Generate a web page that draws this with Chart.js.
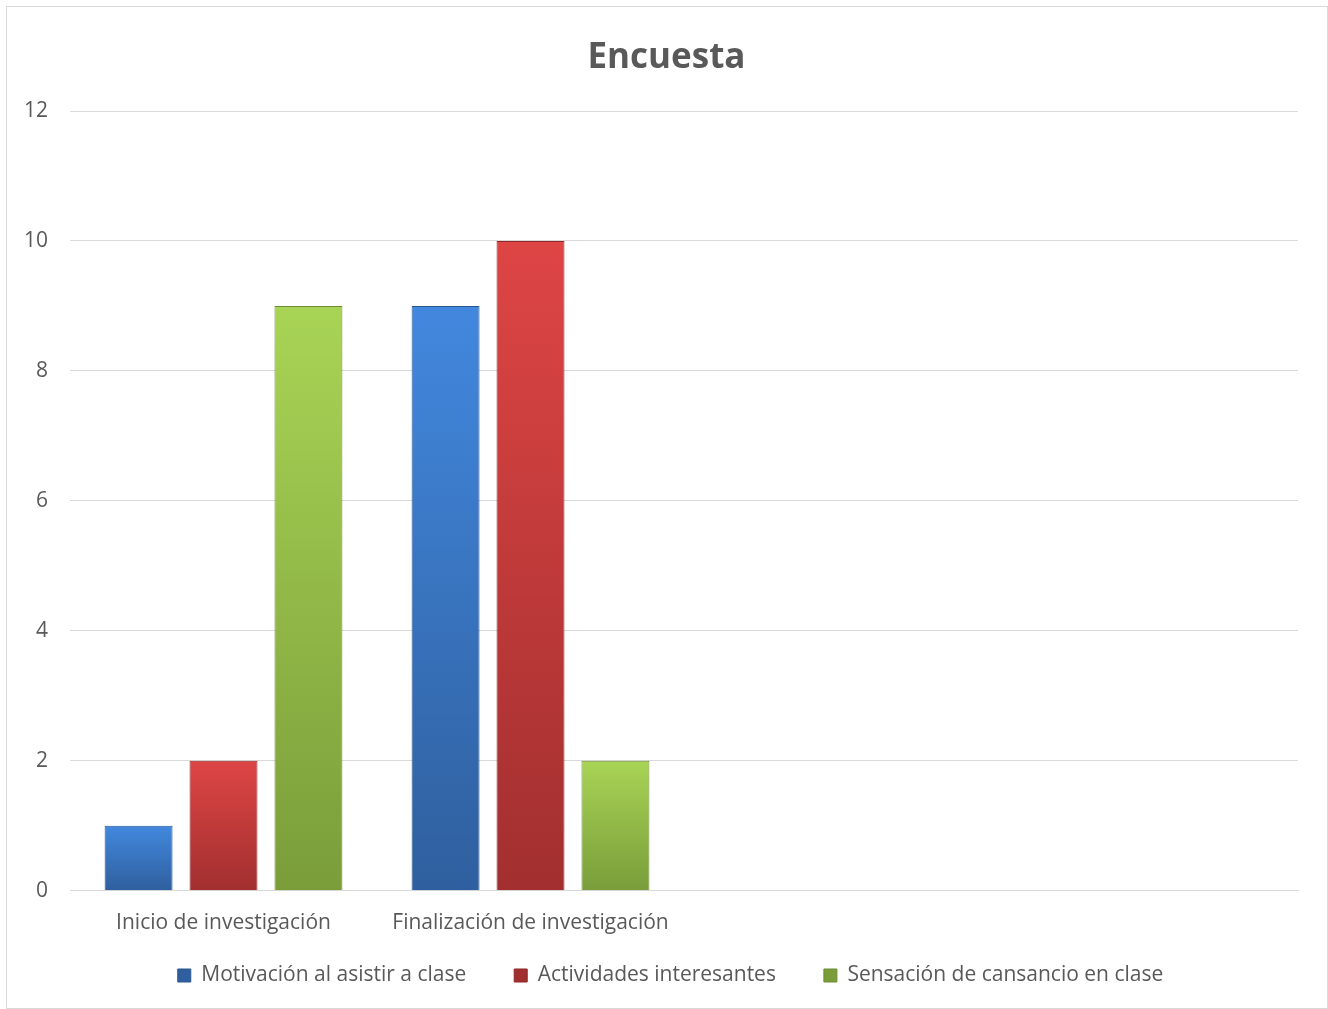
<!DOCTYPE html>
<html>
<head>
<meta charset="utf-8">
<script src="https://cdn.jsdelivr.net/npm/chart.js"></script>
<style>
  body { margin: 0; background: #fff; }
  #wrap { position: absolute; left: 6px; top: 6px; width: 1322px; height: 1003px; border: 1px solid #d9d9d9; box-sizing: border-box; }
</style>
</head>
<body>
<div id="wrap"><canvas id="myChart"></canvas></div>
<script>
const categorias = ['Inicio de investigación', 'Finalización de investigación', '', ''];
const motivacion = [1, 9, null, null];
const actividades = [2, 10, null, null];
const cansancio = [9, 2, null, null];

// degradado vertical propio de cada barra
function degradado(top, bottom) {
    return function (context) {
        const chart = context.chart;
        const y = chart.scales && chart.scales.y;
        if (!chart.chartArea || !y || context.raw == null) return top;
        const y0 = y.getPixelForValue(context.raw);
        const y1 = y.getPixelForValue(0);
        const g = chart.ctx.createLinearGradient(0, y0, 0, y1);
        g.addColorStop(0, top);
        g.addColorStop(1, bottom);
        return g;
    };
}

// desplaza título y leyenda un poco a la derecha, como en el original
const desplazar = {
    id: 'desplazar',
    afterLayout(chart) {
        if (chart.titleBlock) { chart.titleBlock.left += 8; chart.titleBlock.right += 8; }
        if (chart.legend) { chart.legend.left += 12; chart.legend.right += 12; }
    }
};

const ctx = document.getElementById('myChart').getContext('2d');
Chart.defaults.font.family = "'Open Sans', 'Liberation Sans', sans-serif";
Chart.defaults.color = '#595959';

const myChart = new Chart(ctx, {
    type: 'bar',
    data: {
        labels: categorias,
        datasets: [{
            label: 'Motivación al asistir a clase',
            data: motivacion,
            backgroundColor: degradado('#4288de', '#2f5f9e'),
            borderColor: '#2a5690',
            borderWidth: 1
        },
        {
            label: 'Actividades interesantes',
            data: actividades,
            backgroundColor: degradado('#de4545', '#a22f2f'),
            borderColor: '#8f2828',
            borderWidth: 1
        },
        {
            label: 'Sensación de cansancio en clase',
            data: cansancio,
            backgroundColor: degradado('#a8d455', '#7a9d3a'),
            borderColor: '#6d8c34',
            borderWidth: 1
        }]
    },
    options: {
        responsive: true,
        maintainAspectRatio: false,
        animation: false,
        categoryPercentage: 0.83,
        barPercentage: 0.8,
        layout: { padding: { left: 12, right: 29, top: 11, bottom: 12 } },
        plugins: {
            title: {
                display: true,
                text: 'Encuesta',
                font: { size: 35, weight: 'bold' },
                color: '#595959',
                padding: { top: 19, bottom: 32 }
            },
            legend: {
                position: 'bottom',
                labels: {
                    boxWidth: 13,
                    boxHeight: 13,
                    font: { size: 21 },
                    padding: 20,
                    // más separación entre elementos de la leyenda
                    generateLabels: function (chart) {
                        const items = Chart.defaults.plugins.legend.labels.generateLabels(chart);
                        items.forEach(function (it, i) {
                            if (i < items.length - 1) it.text += '\u2003\u2009\u2009';
                        });
                        return items;
                    }
                }
            },
            tooltip: { enabled: false }
        },
        scales: {
            x: {
                grid: { display: false },
                border: { color: '#d9d9d9' },
                ticks: { font: { size: 21 }, maxRotation: 0, padding: 12 },
                afterFit: function (scale) { scale.height -= 3; }
            },
            y: {
                beginAtZero: true,
                min: 0,
                max: 12,
                ticks: { stepSize: 2, font: { size: 21 }, padding: 22 },
                grid: { color: '#d9d9d9', drawTicks: false },
                border: { display: false },
                afterFit: function (scale) { scale.width -= 17; }
            }
        }
    },
    plugins: [desplazar]
});
</script>
</body>
</html>
